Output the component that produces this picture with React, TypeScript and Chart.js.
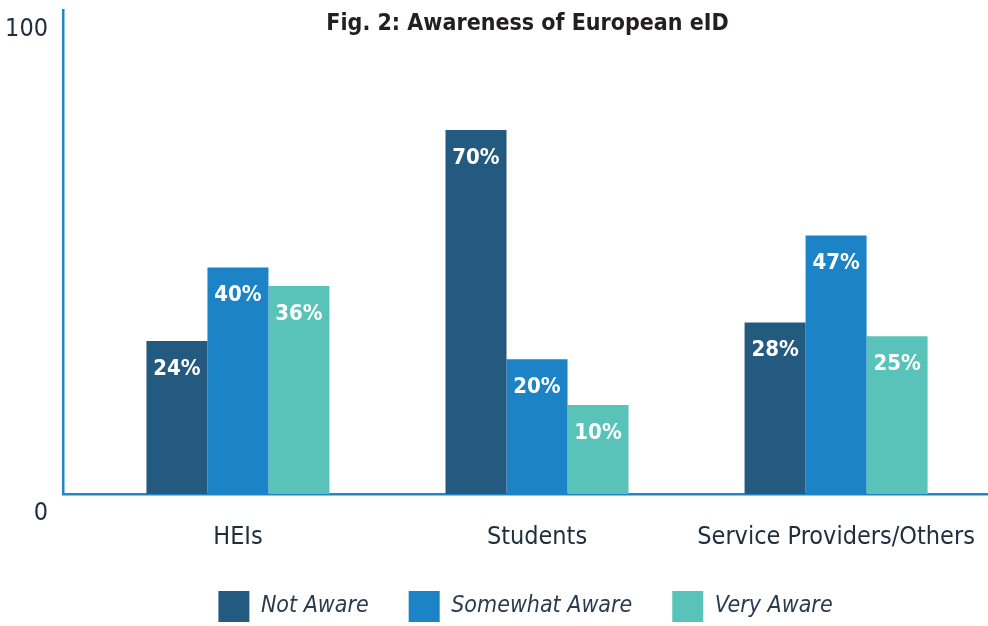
import React, { useEffect, useRef } from "react";
import { Chart, registerables } from "chart.js";

Chart.register(...registerables);

const categories = ["HEIs", "Students", "Service Providers/Others"];
const seriesNames = ["Not Aware", "Somewhat Aware", "Very Aware"];
const notAware = [24, 70, 28];
const somewhatAware = [40, 20, 47];
const veryAware = [36, 10, 25];
const yTickLabels = ["0", "100"];
const titleText = "Fig. 2: Awareness of European eID";

const COLORS = ["#245a80", "#1b83c6", "#5ac3b9"];
const AXIS_COLOR = "#1f86c8";
const TEXT_DARK = "#1f2d3d";
const FONT = "'Liberation Sans Narrow', 'DejaVu Sans Condensed', 'Roboto', sans-serif";
const Y_MIN = -9.4;
const Y_MAX = 96.2;
const X_MIN = -0.585;
const X_MAX = 2.508;

const titlePlugin = {
  id: "overlayTitle",
  afterDraw(chart: any) {
    const { ctx, chartArea } = chart;
    ctx.save();
    ctx.font = `bold 23px ${FONT}`;
    ctx.fillStyle = "#231f20";
    ctx.textAlign = "center";
    ctx.textBaseline = "alphabetic";
    ctx.fillText(titleText, (chartArea.left + chartArea.right) / 2 + 2, chartArea.top + 20);
    ctx.restore();
  },
};

const valueLabelPlugin = {
  id: "valueLabels",
  afterDatasetsDraw(chart: any) {
    const { ctx } = chart;
    ctx.save();
    ctx.font = `bold 22px ${FONT}`;
    ctx.fillStyle = "#ffffff";
    ctx.textAlign = "center";
    ctx.textBaseline = "middle";
    chart.data.datasets.forEach((ds: any, di: number) => {
      const meta = chart.getDatasetMeta(di);
      meta.data.forEach((el: any, i: number) => {
        const v = ds.data[i].y;
        ctx.fillText(`${v}%`, el.x, el.y + 28);
      });
    });
    ctx.restore();
  },
};

export default function App() {
  const ref = useRef<HTMLCanvasElement>(null);

  useEffect(() => {
    document.body.style.margin = "0";
    const series = [notAware, somewhatAware, veryAware];
    const chart = new Chart(ref.current as HTMLCanvasElement, {
      type: "bar",
      data: {
        datasets: series.map((vals, si) => ({
          label: seriesNames[si],
          data: vals.map((v, i) => ({ x: i, y: v })),
          backgroundColor: COLORS[si],
          borderWidth: 0,
          base: Y_MIN,
          categoryPercentage: 0.612,
          barPercentage: 1,
        })),
      } as any,
      options: {
        animation: false,
        responsive: false,
        maintainAspectRatio: false,
        layout: { padding: { top: 10, bottom: -6, left: 0, right: 0 } },
        plugins: {
          title: { display: false },
          tooltip: { enabled: false },
          legend: {
            display: true,
            position: "bottom",
            fullSize: false,
            labels: {
              boxWidth: 31,
              boxHeight: 31,
              padding: 40,
              color: "#2b3b4f",
              font: { family: FONT, size: 23, style: "italic" },
            },
          },
        },
        scales: {
          x: {
            type: "linear",
            min: X_MIN,
            max: X_MAX,
            offset: false,
            grid: { display: false, drawTicks: false },
            border: { display: true, color: AXIS_COLOR, width: 2.5 },
            afterBuildTicks: (s: any) => {
              s.ticks = categories.map((_, i) => ({ value: i }));
            },
            afterFit: (s: any) => {
              s.height = 57;
              s.paddingLeft = 0;
              s.paddingRight = 0;
            },
            ticks: {
              autoSkip: false,
              maxRotation: 0,
              padding: 28,
              color: TEXT_DARK,
              font: { family: FONT, size: 25 },
              callback: (v: any) => categories[v as number],
            },
          },
          y: {
            min: Y_MIN,
            max: Y_MAX,
            grid: { display: false, drawTicks: false },
            border: { display: true, color: AXIS_COLOR, width: 2.5 },
            afterBuildTicks: (s: any) => {
              s.ticks = [{ value: Y_MIN }, { value: Y_MAX }];
            },
            afterFit: (s: any) => {
              s.width = 63;
              s.paddingTop = 0;
              s.paddingBottom = 0;
            },
            ticks: {
              padding: 15,
              labelOffset: 19,
              color: TEXT_DARK,
              font: { family: FONT, size: 25 },
              callback: (_v: any, i: number) => yTickLabels[i],
            },
          },
        },
      } as any,
      plugins: [titlePlugin, valueLabelPlugin],
    });
    return () => chart.destroy();
  }, []);

  return (
    <div style={{ width: 988, height: 626, position: "relative" }}>
      <canvas ref={ref} width={988} height={626} style={{ display: "block" }} />
    </div>
  );
}
